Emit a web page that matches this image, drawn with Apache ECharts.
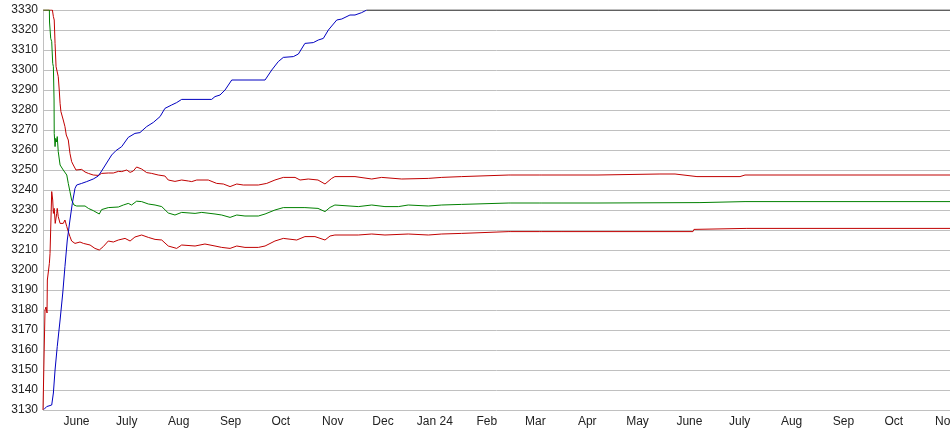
<!DOCTYPE html>
<html>
<head>
<meta charset="utf-8">
<script src="https://cdn.jsdelivr.net/npm/echarts@6/dist/echarts.min.js"></script>
<style>
html,body{margin:0;padding:0;background:#fff;}
#chart{width:950px;height:435px;}
</style>
</head>
<body>
<div id="chart"></div>
<script>
// x values are days after 2023-05-26
var START = Date.UTC(2023, 4, 26);
var END_DAY = 541.6;

var monthTicks = [
  ['2023-06-15','June'],['2023-07-15','July'],['2023-08-15','Aug'],['2023-09-15','Sep'],
  ['2023-10-15','Oct'],['2023-11-15','Nov'],['2023-12-15','Dec'],['2024-01-15','Jan 24'],
  ['2024-02-15','Feb'],['2024-03-15','Mar'],['2024-04-15','Apr'],['2024-05-15','May'],
  ['2024-06-15','June'],['2024-07-15','July'],['2024-08-15','Aug'],['2024-09-15','Sep'],
  ['2024-10-15','Oct'],['2024-11-15','Nov']
];

var blueDays = [0.6,2.2,5.2,6.2,7.2,8.5,10.2,11.8,13.1,14.5,16.1,17.5,19.1,20.1,23.1,26.1,30.0,33.0,35.0,38.0,41.0,43.6,47.0,50.9,54.9,57.9,61.9,65.9,69.9,72.8,76.8,79.8,82.8,100.7,102.7,105.7,108.7,112.7,132.6,136.6,140.5,143.5,149.5,152.5,156.4,161.4,164.4,167.4,170.4,175.4,178.4,183.3,186.3,190.3,193.3];
var blueVals = [3130.3,3131.7,3132.5,3138.5,3150,3161.7,3175,3188.5,3201.7,3215,3225,3233.3,3240.8,3242.5,3243.3,3244.2,3245.5,3247,3249.5,3253.5,3257.5,3259.7,3261.7,3266.3,3268.3,3268.7,3271.7,3273.8,3276.7,3280.8,3282.5,3283.7,3285.3,3285.3,3286.7,3287.5,3290,3295,3295,3300,3304.2,3306.3,3306.7,3308,3313.3,3313.7,3315,3315.8,3320,3325,3325.5,3327.5,3327.5,3328.7,3330];

var blackDays = [193.3, 541.6];
var blackVals = [3330, 3330];

var upperDays = [0.2,5.6,6.2,6.7,7.2,7.8,8.5,9.1,9.7,10.2,10.7,12.1,13.1,13.9,15.1,16.1,17.1,18.1,19.7,23.1,25.1,27.1,30.0,33.0,35.0,39.0,42.0,45.0,47.0,50.0,52.0,53.9,55.9,58.9,61.9,64.9,68.8,72.8,74.8,78.8,79.8,82.8,86.8,88.8,91.8,98.7,103.7,107.7,111.7,115.7,119.6,128.6,133.6,138.5,143.5,150.5,153.5,158.4,164.2,168.4,172.4,174.3,186.3,196.3,202.2,214.2,230.1,238.1,250.0,251.0,278.2,278.8,279.4,296.7,297.3,297.9,309.9,310.5,311.1,330.2,330.8,331.4,368.4,377.4,390.5,416.2,419.2,541.6];
var upperVals = [3330,3330,3326.7,3325,3313.3,3301.7,3300.8,3296.7,3290,3283.3,3279.2,3275,3271.7,3267.5,3265,3258.3,3254.2,3252.5,3250,3250.3,3249,3248.3,3247.5,3247.3,3248.3,3248.5,3248.5,3249.3,3249.2,3250,3248.8,3249.5,3251.5,3250.5,3248.7,3248.3,3247.5,3247,3245,3244.3,3243.7,3245,3244.5,3244.2,3245,3245,3243.3,3243,3241.7,3243,3242.5,3242.5,3243.3,3245,3246.3,3246.3,3245,3245.5,3245,3243,3245.8,3246.7,3246.7,3245.5,3246.3,3245.5,3245.8,3246.3,3246.7,3247.5,3247.5,3248.3,3247.5,3247.5,3248.3,3247.5,3247.5,3248.3,3247.5,3247.5,3248.3,3247.5,3248,3248,3246.7,3246.7,3247.5,3247.5];

var midDays = [0.2,3.8,3.9,4.6,5.2,5.8,6.2,6.6,6.7,7.2,7.6,8.2,8.5,9.1,10.2,12.1,14.2,15.1,16.1,17.1,18.5,20.1,25.1,27.1,30.0,33.6,35.0,39.0,45.0,48.0,50.9,52.9,55.9,58.9,62.9,66.9,70.9,74.8,78.8,82.8,90.8,94.8,102.7,106.7,111.7,115.7,120.6,128.6,132.6,138.5,143.5,156.4,164.2,168.4,171.4,174.3,188.3,196.3,204.2,212.2,218.1,230.1,238.1,250.0,251.0,278.2,278.8,279.4,296.7,297.3,297.9,309.9,310.5,311.1,330.2,330.8,331.4,392.3,419.2,541.6];
var midVals = [3330,3330,3324,3315.8,3314.2,3303.3,3301.7,3285,3268.3,3261.7,3265.8,3264,3266.7,3259.2,3252.5,3250,3247.5,3243.3,3239.2,3235,3232.5,3232,3232,3230.8,3229.7,3228,3230.2,3231.2,3231.5,3232.5,3233.3,3232.5,3234.4,3234.2,3233,3232.5,3231.7,3228.5,3227.5,3228.8,3228.3,3228.8,3228,3227.5,3226.3,3227.5,3227,3227,3228,3230,3231.2,3231.2,3230.8,3229.2,3231.3,3232.5,3231.7,3232.5,3231.7,3231.7,3232.5,3232,3232.5,3232.8,3233.5,3233.5,3234.3,3233.5,3233.5,3234.3,3233.5,3233.5,3234.3,3233.5,3233.5,3234.3,3233.5,3233.7,3234.2,3234.2];

var lowerDays = [0,0.6,0.7,1.2,1.8,2.4,2.6,3.8,4.2,5.2,5.8,6.2,6.7,7.3,8.2,8.5,9.1,10.2,12.1,13.1,14.2,15.1,16.1,17.1,19.1,22.1,24.1,28.1,31.0,33.6,36.0,39.0,42.0,45.0,49.0,52.0,54.9,58.9,62.9,66.9,70.9,74.8,79.8,82.8,90.8,96.7,102.7,106.7,111.7,115.7,120.6,128.6,132.6,138.5,143.5,151.5,156.4,162.4,168.4,171.4,174.3,188.3,196.3,204.2,218.1,230.1,238.1,250.0,251.0,278.2,278.8,279.4,296.7,297.3,297.9,309.9,310.5,311.1,388.1,388.7,420.3,541.6];
var lowerVals = [3130,3130.3,3160,3180,3181.5,3178.5,3195,3203.3,3208.3,3239.2,3235,3228.3,3230.8,3223.3,3228.3,3230.8,3226.7,3223.3,3223.3,3225,3221.7,3219.2,3216.7,3214.5,3213.3,3214,3213.3,3212.5,3210.8,3210,3211.7,3214.5,3214,3215,3215.8,3214.5,3216.5,3217.5,3216.3,3215.3,3215,3212,3210.8,3212.5,3212,3213,3212,3211.3,3210.8,3212,3211.3,3211.3,3212,3214.5,3215.8,3215,3216.7,3216.7,3215,3217,3217.5,3217.5,3218,3217.5,3218,3217.5,3218,3218.3,3219,3219.2,3220,3219.2,3219.2,3220,3219.2,3219.2,3220,3219.2,3219.2,3220.3,3220.8,3220.8];

function pairs(xs, ys){ return xs.map(function(x,i){ return [x, ys[i]]; }); }
function dayOf(s){ var p = s.split('-'); return (Date.UTC(+p[0], +p[1]-1, +p[2]) - START) / 864e5; }

var tickPos = monthTicks.map(function(t){ return dayOf(t[0]); });
var tickMap = {};
monthTicks.forEach(function(t){ tickMap[dayOf(t[0])] = t[1]; });

var FONT = 'Arial, "Liberation Sans", sans-serif';
function line(name, color, xs, ys, z){
  return { name: name, type: 'line', data: pairs(xs, ys), showSymbol: false, symbol: 'none',
    lineStyle: { color: color, width: 1 }, itemStyle: { color: color }, z: z, silent: true };
}

var chart = echarts.init(document.getElementById('chart'), null, { renderer: 'canvas' });
chart.setOption({
  animation: false,
  backgroundColor: '#ffffff',
  grid: { left: 43, right: 0, top: 10, bottom: 25, containLabel: false, outerBoundsMode: 'none' },
  xAxis: {
    type: 'value', min: 0, max: END_DAY,
    axisLine: { show: false }, axisTick: { show: false }, splitLine: { show: false },
    axisLabel: {
      customValues: tickPos, margin: 6, fontSize: 12, color: '#222', fontFamily: FONT,
      hideOverlap: false,
      formatter: function(v){ return tickMap[v] || ''; }
    }
  },
  yAxis: {
    type: 'value', min: 3130, max: 3330, interval: 10,
    axisLine: { show: true, lineStyle: { color: '#c0c0c0' } },
    axisTick: { show: false },
    splitLine: { show: true, lineStyle: { color: '#c0c0c0', width: 1 } },
    axisLabel: { margin: 5, fontSize: 12, color: '#222', fontFamily: FONT,
      formatter: function(v){ return String(v); } }
  },
  series: [
    line('upper', '#c00000', upperDays, upperVals, 2),
    line('mid', '#008000', midDays, midVals, 3),
    line('lower', '#c00000', lowerDays, lowerVals, 2),
    line('cumulative', '#0000c0', blueDays, blueVals, 4),
    line('max', '#000000', blackDays, blackVals, 4)
  ]
});
</script>
</body>
</html>
